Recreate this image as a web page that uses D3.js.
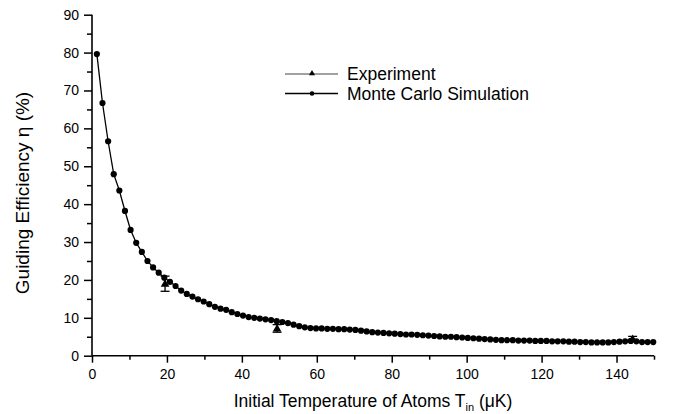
<!DOCTYPE html>
<html><head><meta charset="utf-8">
<script src="https://cdn.jsdelivr.net/npm/d3@7/dist/d3.min.js"></script>
<style>
html,body{margin:0;padding:0;background:#fff;}
svg text{font-family:"Liberation Sans",Arial,Helvetica,sans-serif;fill:#000;}
</style></head>
<body><svg id="chart" width="678" height="414"></svg>
<script>
// ---- data ----
const simX = [1.3,2.8,4.3,5.8,7.3,8.8,10.3,11.8,13.3,14.8,16.3,17.8,19.3,20.8,22.3,23.8,25.3,26.8,28.3,29.8,
 31.3,32.8,34.3,35.8,37.3,38.8,40.3,41.8,43.3,44.8,46.3,47.8,49.3,50.8,52.3,53.8,55.3,56.8,58.3,59.8,
 61.3,62.8,64.3,65.8,67.3,68.8,70.3,71.8,73.3,74.8,76.3,77.8,79.3,80.8,82.3,83.8,85.3,86.8,88.3,89.8,
 91.3,92.8,94.3,95.8,97.3,98.8,100.3,101.8,103.3,104.8,106.3,107.8,109.3,110.8,112.3,113.8,115.3,116.8,118.3,119.8,
 121.3,122.8,124.3,125.8,127.3,128.8,130.3,131.8,133.3,134.8,136.3,137.8,139.3,140.8,142.3,143.8,145.3,146.8,148.3,149.8];
const simY = [79.6,66.7,56.6,47.9,43.6,38.2,33.2,29.8,27.4,25.0,23.3,21.9,20.6,19.5,18.4,17.2,16.3,15.6,14.9,14.3,
 13.6,12.9,12.4,12.1,11.5,11.0,10.6,10.2,10.0,9.8,9.6,9.4,9.1,8.9,8.6,8.2,7.8,7.5,7.3,7.2,
 7.2,7.1,7.1,7.0,7.0,6.9,6.8,6.6,6.4,6.2,6.1,6.0,5.9,5.8,5.7,5.6,5.6,5.5,5.4,5.3,
 5.2,5.1,5.0,5.0,4.9,4.8,4.7,4.6,4.5,4.4,4.3,4.2,4.1,4.1,4.1,4.0,4.0,4.0,3.9,3.9,
 3.9,3.8,3.8,3.8,3.7,3.7,3.6,3.6,3.5,3.5,3.5,3.5,3.6,3.7,3.8,3.9,3.8,3.6,3.6,3.6];
const expX = [19.5, 49.4, 144.3];
const expY = [19.0, 7.2, 4.4];
const expErr = [2.0, 1.0, 0.7];
const xTicks = [0,20,40,60,80,100,120,140];
const yTicks = [0,10,20,30,40,50,60,70,80,90];
const legendLabels = ["Experiment","Monte Carlo Simulation"];

// ---- layout ----
const svg = d3.select("#chart");
const x = d3.scaleLinear().domain([0,150]).range([92,654]);
const y = d3.scaleLinear().domain([0,90]).range([355.7,14.7]);

// axes
const xAx = svg.append("g").attr("transform",`translate(0,${y(0)})`)
  .call(d3.axisBottom(x).tickValues(xTicks).tickSize(7).tickPadding(6).tickFormat(d3.format("d")));
const xMinor = svg.append("g").attr("transform",`translate(0,${y(0)})`)
  .call(d3.axisBottom(x).tickValues(d3.range(10,151,20)).tickSize(4).tickFormat(""));
const yAx = svg.append("g").attr("transform",`translate(${x(0)},0)`)
  .call(d3.axisLeft(y).tickValues(yTicks).tickSize(8).tickPadding(5).tickFormat(d3.format("d")));
const yMinor = svg.append("g").attr("transform",`translate(${x(0)},0)`)
  .call(d3.axisLeft(y).tickValues(d3.range(5,90,10)).tickSize(5).tickFormat(""));
[xAx,xMinor,yAx,yMinor].forEach(g=>{
  g.selectAll("path").attr("stroke","#000").attr("stroke-width",1.6);
  g.selectAll("line").attr("stroke","#000").attr("stroke-width",1.5);
  g.selectAll("text").attr("font-size","14px").attr("fill","#000");
});
xMinor.select("path").remove(); yMinor.select("path").remove();
yAx.select("path").attr("d",`M0,${y(0)}V${y(90)}`);
xAx.select("path").attr("d",`M${x(0)},0H${x(150)}`);

// simulation line + points
const sim = simX.map((d,i)=>[d,simY[i]]);
svg.append("path").datum(sim)
  .attr("d", d3.line().x(d=>x(d[0])).y(d=>y(d[1])))
  .attr("fill","none").attr("stroke","#000").attr("stroke-width",1.3);
svg.append("g").selectAll("circle").data(sim).join("circle")
  .attr("cx",d=>x(d[0])).attr("cy",d=>y(d[1])).attr("r",3.1).attr("fill","#000");

// experiment points with error bars
const exp = expX.map((d,i)=>({x:d,y:expY[i],e:expErr[i]}));
const eg = svg.append("g");
exp.forEach(d=>{
  const cx = x(d.x);
  eg.append("line").attr("x1",cx).attr("x2",cx).attr("y1",y(d.y-d.e)).attr("y2",y(d.y+d.e))
    .attr("stroke","#000").attr("stroke-width",1.3);
  [d.y-d.e,d.y+d.e].forEach(v=>eg.append("line").attr("x1",cx-4.5).attr("x2",cx+4.5)
    .attr("y1",y(v)).attr("y2",y(v)).attr("stroke","#000").attr("stroke-width",1.3));
  eg.append("path").attr("d",d3.symbol(d3.symbolTriangle,32)())
    .attr("transform",`translate(${cx},${y(d.y)+0.5})`).attr("fill","#000");
});

// legend
const lg = svg.append("g");
legendLabels.forEach((lab,i)=>{
  const ly = 74 + i*19.5;
  lg.append("line").attr("x1",285).attr("x2",338).attr("y1",ly).attr("y2",ly)
    .attr("stroke", i===0?"#444":"#000").attr("stroke-width", i===0?1.2:1.7);
  if(i===0) lg.append("path").attr("d",d3.symbol(d3.symbolTriangle,16)()).attr("transform",`translate(312,${ly-0.5})`).attr("fill","#000");
  else lg.append("circle").attr("cx",312).attr("cy",ly).attr("r",2.3).attr("fill","#000");
  lg.append("text").attr("x",347).attr("y",ly+6).attr("font-size","17.5px").text(lab);
});

// axis titles
const xt = svg.append("text").attr("x",373).attr("y",407).attr("text-anchor","middle").attr("font-size","17.5px");
xt.append("tspan").text("Initial Temperature of Atoms T");
xt.append("tspan").attr("font-size","11px").attr("dy",4).text("in");
xt.append("tspan").attr("dy",-4).text(" (\u03BCK)");
svg.append("text").attr("transform","translate(29,193) rotate(-90)").attr("text-anchor","middle")
  .attr("font-size","19px").text("Guiding Efficiency \u03B7 (%)");
</script></body></html>
